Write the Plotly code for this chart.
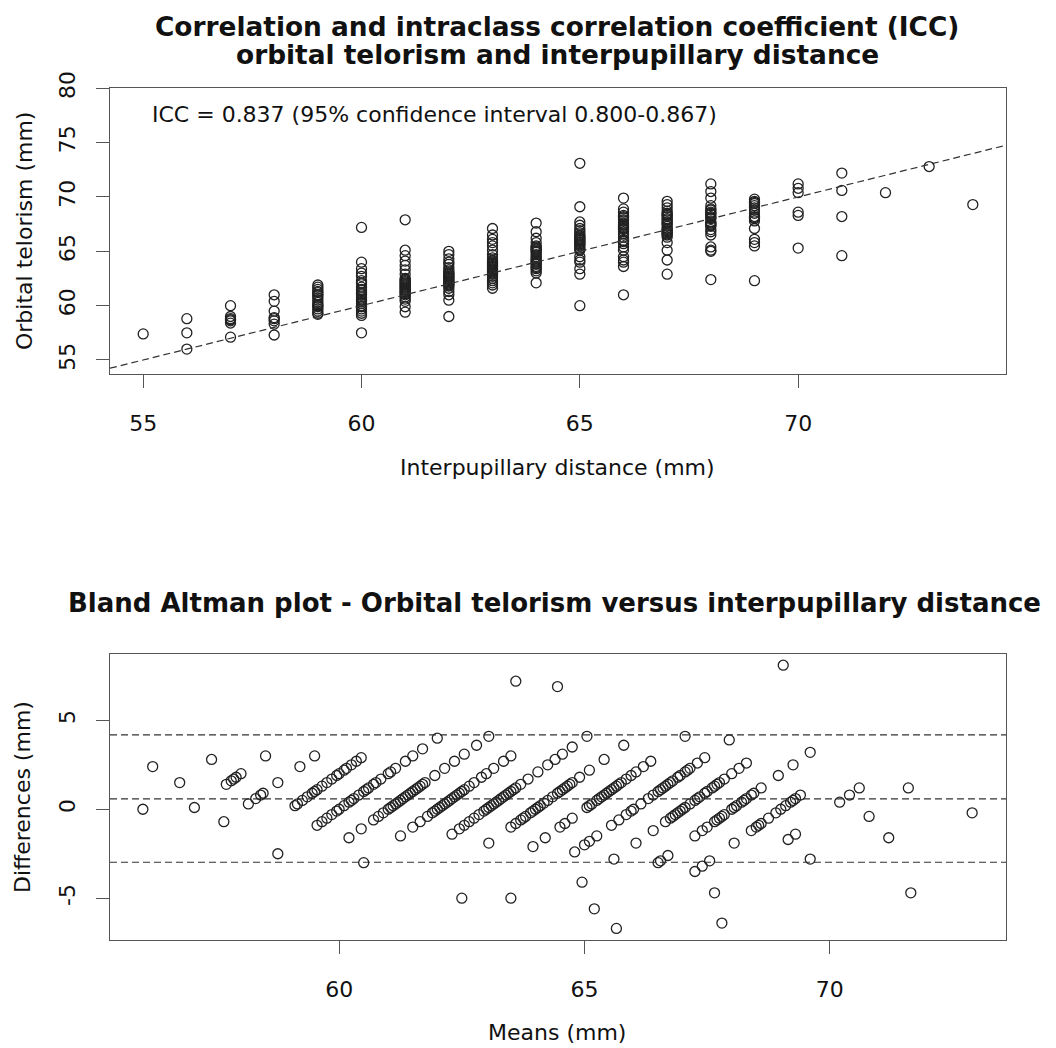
import plotly.graph_objects as go

# ---------------- data ----------------
ipd_levels = [55, 56, 57, 58, 59, 60, 61, 62, 63, 64, 65, 66, 67, 68, 69, 70, 71, 72, 73, 74]

orbital_55 = [57.4]
orbital_56 = [56.0, 57.5, 58.8]
orbital_57 = [57.1, 58.4, 58.6, 58.7, 58.8, 59.0, 60.0]
orbital_58 = [57.3, 58.3, 58.6, 58.8, 58.9, 59.5, 60.4, 61.0]
orbital_59 = [59.2, 59.3, 59.5, 59.7, 59.9, 60.0, 60.1, 60.3, 60.5, 60.7, 60.9, 61.0, 61.2,
              61.3, 61.5, 61.7, 61.9]
orbital_60 = [57.5, 59.1, 59.3, 59.5, 59.7, 59.9, 60.0, 60.2, 60.4, 60.5, 60.6, 60.8, 61.0,
              61.1, 61.2, 61.4, 61.5, 61.7, 62.0, 62.1, 62.3, 62.7, 63.0, 63.4, 64.0, 67.2]
orbital_61 = [59.4, 59.9, 60.4, 60.6, 60.8, 61.0, 61.1, 61.2, 61.3, 61.4, 61.5, 61.6, 61.7,
              61.8, 61.9, 62.0, 62.1, 62.2, 62.3, 62.4, 62.5, 62.9, 63.3, 63.7, 64.1, 64.6,
              65.1, 67.9]
orbital_62 = [59.0, 60.5, 61.0, 61.3, 61.6, 61.8, 61.9, 62.0, 62.1, 62.2, 62.3, 62.4, 62.5,
              62.6, 62.7, 62.8, 62.9, 63.0, 63.1, 63.3, 63.5, 63.8, 64.0, 64.3, 64.7, 65.0]
orbital_63 = [61.6, 61.9, 62.1, 62.3, 62.5, 62.7, 62.9, 63.0, 63.1, 63.2, 63.3, 63.4, 63.5,
              63.6, 63.7, 63.8, 63.9, 64.0, 64.1, 64.2, 64.4, 64.7, 65.1, 65.5, 65.8, 66.1,
              66.5, 67.1]
orbital_64 = [62.1, 63.0, 63.2, 63.4, 63.5, 63.6, 63.8, 63.9, 64.0, 64.1, 64.2, 64.35, 64.5,
              64.7, 64.9, 65.0, 65.1, 65.2, 65.3, 65.4, 65.5, 65.8, 66.2, 66.8, 67.6]
orbital_65 = [60.0, 62.9, 63.4, 64.0, 64.2, 64.5, 65.1, 65.2, 65.3, 65.5, 65.6, 65.7, 65.8,
              65.9, 66.0, 66.1, 66.2, 66.3, 66.4, 66.5, 66.7, 66.9, 67.1, 67.4, 67.7, 69.1,
              73.1]
orbital_66 = [61.0, 63.6, 64.0, 64.2, 64.5, 65.1, 65.4, 65.7, 65.9, 66.0, 66.3, 66.6, 66.8,
              67.0, 67.1, 67.2, 67.3, 67.4, 67.5, 67.6, 67.8, 67.9, 68.1, 68.2, 68.3, 68.6,
              68.9, 69.9]
orbital_67 = [62.9, 64.2, 65.1, 65.8, 66.3, 66.5, 66.6, 66.7, 66.8, 66.9, 67.0, 67.1, 67.3,
              67.5, 67.6, 67.7, 67.9, 68.0, 68.2, 68.3, 68.4, 68.5, 68.7, 69.0, 69.3, 69.6]
orbital_68 = [62.4, 65.0, 65.1, 65.4, 66.5, 66.8, 67.0, 67.3, 67.4, 67.5, 67.6, 67.7, 68.0,
              68.1, 68.2, 68.4, 68.5, 68.6, 68.8, 68.9, 69.2, 69.9, 70.5, 71.2]
orbital_69 = [62.3, 65.5, 65.8, 66.1, 67.1, 67.8, 68.0, 68.1, 68.2, 68.5, 68.8, 69.0, 69.2,
              69.4, 69.5, 69.6, 69.8]
orbital_70 = [65.3, 68.3, 68.6, 70.4, 70.8, 71.2]
orbital_71 = [64.6, 68.2, 70.6, 72.2]
orbital_72 = [70.4]
orbital_73 = [72.8]
orbital_74 = [69.3]

orbital_columns = [orbital_55, orbital_56, orbital_57, orbital_58, orbital_59, orbital_60,
                   orbital_61, orbital_62, orbital_63, orbital_64, orbital_65, orbital_66,
                   orbital_67, orbital_68, orbital_69, orbital_70, orbital_71, orbital_72,
                   orbital_73, orbital_74]

# Bland-Altman reference lines (mean difference and limits of agreement)
ba_mean_diff = 0.58
ba_upper_loa = 4.18
ba_lower_loa = -2.98

icc_text = "ICC = 0.837 (95% confidence interval 0.800-0.867)"

top_xticks = [55, 60, 65, 70]
top_yticks = [55, 60, 65, 70, 75, 80]
bot_xticks = [60, 65, 70]
bot_yticks = [-5, 0, 5]
bot_yticktext = ["-5", "0", "5"]

# ---------------- derived series ----------------
ipd = []
orb = []
for lvl, col in zip(ipd_levels, orbital_columns):
    for v in col:
        ipd.append(lvl)
        orb.append(v)
means = [(a + b) / 2 for a, b in zip(ipd, orb)]
diffs = [b - a for a, b in zip(ipd, orb)]

# ---------------- figure ----------------
PAGE_W, PAGE_H = 1056, 1048
BODY = 8                      # default page margin around the plot div
W, H = PAGE_W - 2 * BODY, PAGE_H - BODY


def fx(px):
    return (px - BODY) / W


def fy(py):
    return 1 - (py - BODY) / H


FONT = "DejaVu Sans"
TXT = "#111111"
BOX = "#555555"
PT = "#222222"

top_xrange = [54.24, 74.76]
top_yrange = [53.71, 80.0]
bot_xrange = [55.33, 73.59]
bot_yrange = [-7.35, 8.73]

xdom = [fx(110), fx(1006)]
top_ydom = [fy(374), fy(88.3)]
bot_ydom = [fy(940), fy(654)]

fig = go.Figure()

marker = dict(symbol="circle-open", size=10, color=PT, line=dict(width=1.3, color=PT))

fig.add_trace(go.Scatter(x=ipd, y=orb, mode="markers", marker=marker,
                         xaxis="x", yaxis="y", showlegend=False, hoverinfo="x+y"))
# identity line
fig.add_trace(go.Scatter(x=top_xrange, y=top_xrange, mode="lines",
                         line=dict(color="#333333", width=1.2, dash="7px,4px"),
                         xaxis="x", yaxis="y", showlegend=False, hoverinfo="skip"))

fig.add_trace(go.Scatter(x=means, y=diffs, mode="markers", marker=marker,
                         xaxis="x2", yaxis="y2", showlegend=False, hoverinfo="x+y"))

for yv in [ba_upper_loa, ba_mean_diff, ba_lower_loa]:
    fig.add_shape(type="line", xref="x2 domain", yref="y2", x0=0, x1=1, y0=yv, y1=yv,
                  line=dict(color="#333333", width=1.2, dash="7px,4px"), layer="below")

axis_common = dict(showline=True, linecolor=BOX, linewidth=1.2, mirror=True,
                   ticks="outside", ticklen=13, tickwidth=1.2, tickcolor=BOX,
                   showgrid=False, zeroline=False, automargin=False,
                   tickfont=dict(family=FONT, size=22, color=TXT))

fig.update_layout(
    width=W, height=H,
    margin=dict(l=0, r=0, t=0, b=0, pad=0, autoexpand=False),
    paper_bgcolor="white", plot_bgcolor="white",
    font=dict(family=FONT, color=TXT),
    xaxis=dict(domain=xdom, range=top_xrange, tickvals=top_xticks, anchor="y",
               ticklabelstandoff=16, **axis_common),
    yaxis=dict(domain=top_ydom, range=top_yrange, tickvals=top_yticks, anchor="x",
               tickangle=-90, ticklabelstandoff=12, **axis_common),
    xaxis2=dict(domain=xdom, range=bot_xrange, tickvals=bot_xticks, anchor="y2",
                ticklabelstandoff=16, **axis_common),
    yaxis2=dict(domain=bot_ydom, range=bot_yrange, tickvals=bot_yticks,
                ticktext=bot_yticktext, anchor="x2",
                tickangle=-90, ticklabelstandoff=12, **axis_common),
)


def ann(text, x, y, size=22, bold=False, angle=0, xanchor="center"):
    t = f"<b>{text}</b>" if bold else text
    fig.add_annotation(text=t, x=fx(x), y=fy(y), xref="paper", yref="paper",
                       showarrow=False, textangle=angle, xanchor=xanchor, yanchor="middle",
                       font=dict(family=FONT, size=size, color=TXT))


cx = 557
ann("Correlation and intraclass correlation coefficient (ICC)", cx, 26, size=26.4, bold=True)
ann("orbital telorism and interpupillary distance", cx, 55, size=26.4, bold=True)
ann("Bland Altman plot - Orbital telorism versus interpupillary distance", cx - 3, 603,
    size=26, bold=True)
ann(icc_text, 150, 115, xanchor="left")
ann("Interpupillary distance (mm)", cx, 467)
ann("Orbital telorism (mm)", 24, 231, angle=-90)
ann("Means (mm)", cx, 1032)
ann("Differences (mm)", 22, 797, angle=-90)

fig.write_html("out.html")
